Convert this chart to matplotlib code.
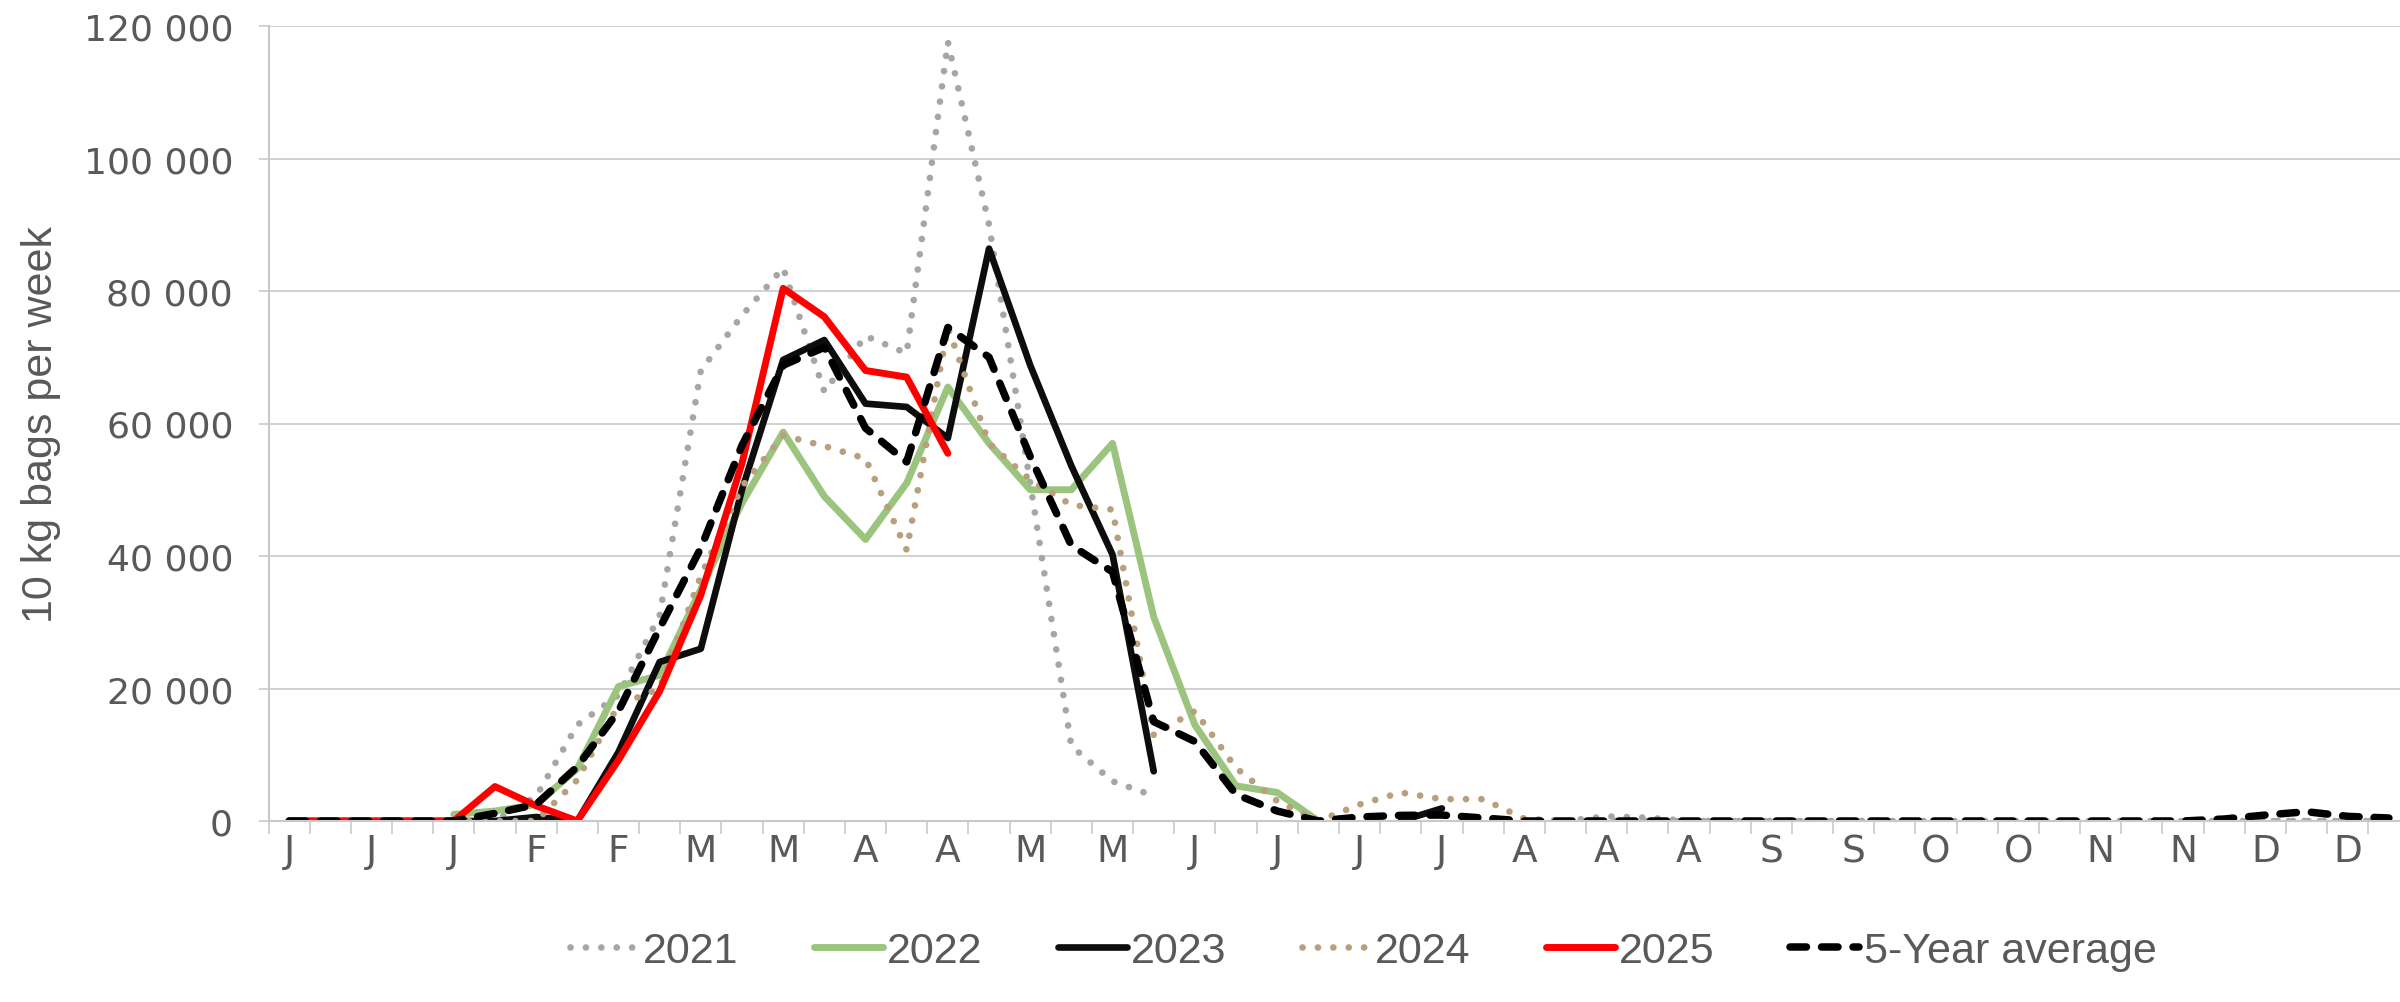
import numpy as np
import matplotlib.pyplot as plt
from matplotlib.ticker import FuncFormatter, MultipleLocator

nan = np.nan

# weekly values, 52 weeks
weeks = np.arange(52)
month_labels = ["J", "J", "J", "F", "F", "M", "M", "A", "A", "M", "M", "J", "J",
                "J", "J", "A", "A", "A", "S", "S", "O", "O", "N", "N", "D", "D"]

y2021 = ([0, 0, 0, 0, 0, 0, 3700, 14500, 19000, 31000, 68000, 76300, 83500, 64800,
          73200, 70600, 117600, 90000, 51000, 11300, 6000, 3800]
         + [nan] * 9 + [0, 700, 500] + [0] * 18)
y2022 = ([nan] * 4
         + [1000, 1500, 2500, 7900, 20300, 22000, 35000, 48000, 58700, 49000, 42500,
            51000, 65500, 57000, 50000, 50000, 57000, 30800, 14500, 5300, 4300, 0]
         + [nan] * 26)
y2023 = ([0, 0, 0, 0, 0, 0, 600, 0, 10400, 24000, 26000, 50000, 69600, 72600, 63000,
          62500, 57800, 86400, 68800, 53600, 40200, 7500]
         + [nan] * 5 + [0, 1900] + [nan] * 23)
y2024 = ([nan] * 4
         + [0, 0, 0, 6200, 17500, 20000, 37000, 50500, 58200, 56600, 54700, 40900,
            74500, 57000, 51500, 47700, 47000, 13000, 16600, 8000, 3000, 0, 2500,
            4300, 3300, 3300, 350]
         + [0] * 21)
y2025 = ([0, 0, 0, 0, 0, 5200, 2300, 0, 9200, 19600, 34100, 54000, 80400, 76100,
          68000, 67000, 55500]
         + [nan] * 35)
avg5 = ([0, 0, 0, 0, 0, 1150, 2500, 8200, 16600, 29100, 41200, 56700, 68800, 71500,
         59300, 54200, 74500, 70000, 55000, 41600, 37600, 15000, 12000, 4000, 1500, 0,
         600, 850, 900, 450, 0]
        + [0] * 16 + [300, 900, 1400, 700, 450])

text_col = "#595959"
grid_col = "#C9C9C9"

fig = plt.figure(figsize=(24, 10.03), dpi=100)
ax = fig.add_axes([268.5 / 2400, 181 / 1003, 2141 / 2400, 795 / 1003])

dot = (0, (0.01, 2.3))
ax.plot(weeks, y2021, color="#A6A6A6", lw=4.8, ls=dot, dash_capstyle="round", label="2021")
ax.plot(weeks, y2022, color="#9BC57E", lw=5.0, solid_capstyle="round", label="2022")
ax.plot(weeks, y2023, color="#0D0D0D", lw=4.8, solid_capstyle="round", label="2023")
ax.plot(weeks, y2024, color="#B89F7E", lw=4.8, ls=dot, dash_capstyle="round", label="2024")
ax.plot(weeks, y2025, color="#FF0000", lw=5.0, solid_capstyle="round", label="2025")
ax.plot(weeks, avg5, color="black", lw=5.4, ls=(0, (2.2, 2.0)), dash_capstyle="round",
        label="5-Year average")

ax.set_xlim(-0.5, 51.5)
ax.set_ylim(0, 120000)

ax.set_xticks(np.arange(0, 52, 2))
ax.set_xticklabels(month_labels)
ax.set_xticks(np.arange(-0.5, 52, 1), minor=True)
ax.tick_params(axis="x", which="major", length=0, pad=9, labelsize=27, labelcolor=text_col)
ax.tick_params(axis="x", which="minor", length=9.5, width=1.2, color=grid_col)

ax.yaxis.set_major_locator(MultipleLocator(20000))
ax.yaxis.set_major_formatter(FuncFormatter(lambda v, p: f"{int(v):,}".replace(",", " ")))
ax.tick_params(axis="y", length=7.5, width=1.2, color=grid_col, pad=18,
               labelsize=26, labelcolor=text_col)

ax.grid(axis="y", color=grid_col, lw=1.2)
ax.set_axisbelow(True)
for s in ["top", "right"]:
    ax.spines[s].set_visible(False)
for s in ["left", "bottom"]:
    ax.spines[s].set_color(grid_col)
    ax.spines[s].set_linewidth(1.5)

sans = ["Liberation Sans", "DejaVu Sans"]
ax.set_ylabel("10 kg bags per week", fontsize=31, color=text_col, family=sans)
ax.yaxis.set_label_coords(-0.097, 0.5)

leg = fig.legend(loc="lower center", bbox_to_anchor=(0.568, -0.008), ncol=6, frameon=False,
                 handlelength=1.6, handletextpad=0.1, columnspacing=1.75,
                 prop={"family": sans, "size": 31})
for t in leg.get_texts():
    t.set_color(text_col)

fig.savefig("out.png", dpi=100)
